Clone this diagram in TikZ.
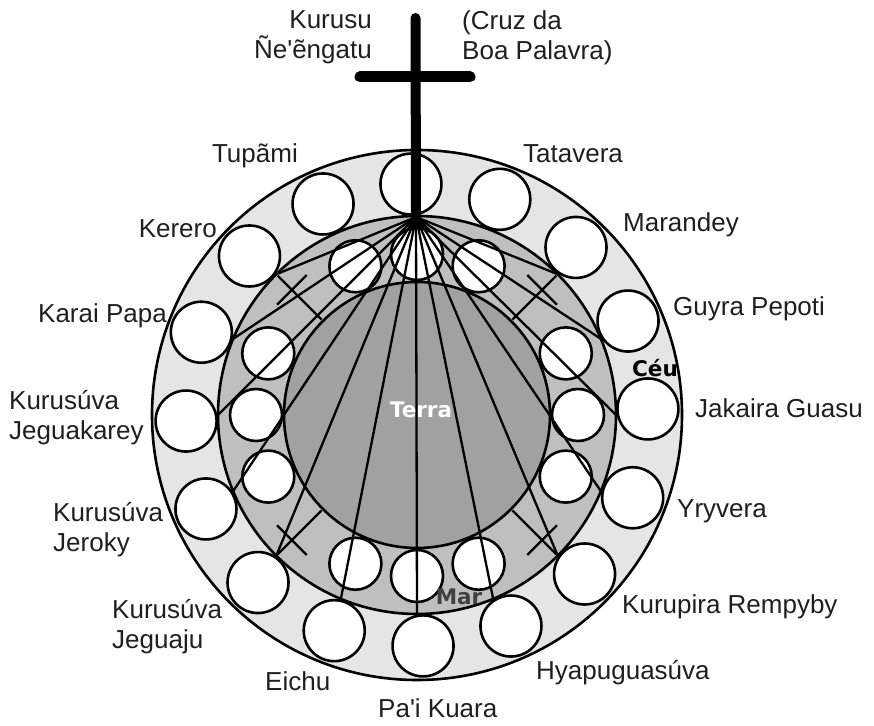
\documentclass[tikz,border=0pt]{standalone}
\usepackage{fontspec}
\setmainfont{Liberation Sans}
\newfontfamily\tagfont{DejaVu Sans}
\definecolor{ringlight}{gray}{0.9}
\definecolor{ringmid}{gray}{0.75}
\definecolor{ringdark}{gray}{0.63}
\tikzset{
	lab/.style={font=\fontsize{26}{30}\selectfont, text=black!88, inner sep=0pt},
	tag/.style={font=\tagfont\bfseries\fontsize{21.5}{24}\selectfont, inner sep=0pt},
	ray/.style={line width=2.3pt},
	smallcross/.style={line width=2.3pt}
}

\begin{document}
\begin{tikzpicture}[x=1pt,y=1pt]
	\useasboundingbox (0,0) rectangle (874,725);
	\begin{scope}[shift={(417,310)}]
	\draw [line width=2.6pt, fill=ringlight] (0,0) circle (265pt);
	\draw [line width=2.6pt, fill=ringmid] (0,0) circle (199pt);
	\draw [line width=2.6pt, fill=ringdark] (0,0) circle (133pt);
	% outer ring
	\begin{scope}[every node/.style={circle,draw,fill=white,line width=2.6pt,inner sep=0pt,minimum size=61pt}]
	\node (jakaira) at (1.5:231) {};
	\node (guyra) at (24:231) {};
	\node (marandey) at (46.5:231) {};
	\node (tatavera) at (69:231) {};
	\node (kurusu) at (91.5:231) {};
	\node (tupami) at (114:231) {};
	\node (kerero) at (136.5:231) {};
	\node (karai) at (159:231) {};
	\node (jeguakarey) at (181.5:231) {};
	\node (jeroky) at (204:231) {};
	\node (jeguaju) at (226.5:231) {};
	\node (eichu) at (249:231) {};
	\node (paikuara) at (271.5:231) {};
	\node (hyapu) at (294:231) {};
	\node (kurupira) at (316.5:231) {};
	\node (yryvera) at (339:231) {};
	\end{scope}
	% middle ring
	\begin{scope}[every node/.style={circle,draw,fill=white,line width=2.6pt,inner sep=0pt,minimum size=52pt}]
	\node (m1) at (0:161) {};
	\node (m2) at (22.5:161) {};
	\node (m3) at (67.5:161) {};
	\node (m4) at (90:161) {};
	\node (m5) at (112.5:161) {};
	\node (m6) at (157.5:161) {};
	\node (m7) at (180:161) {};
	\node (m8) at (202.5:161) {};
	\node (m9) at (247.5:161) {};
	\node (m10) at (270:161) {};
	\node (m11) at (292.5:161) {};
	\node (m12) at (337.5:161) {};
	\end{scope}
	\coordinate (apex) at (-1,198);
	\path (45:199) coordinate (e1) (22.5:199) coordinate (e2) (0:199) coordinate (e3)
		(-22.5:199) coordinate (e4) (-45:199) coordinate (e5) (-67.5:199) coordinate (e6)
		(-90:199) coordinate (e7) (-112.5:199) coordinate (e8) (-135:199) coordinate (e9)
		(-157.5:199) coordinate (e10) (180:199) coordinate (e11) (157.5:199) coordinate (e12)
		(135:199) coordinate (e13);
	\draw [ray] (apex) edge (e1) edge (e2) edge (e3) edge (e4) edge (e5) edge (e6) edge (e7)
		edge (e8) edge (e9) edge (e10) edge (e11) edge (e12) edge (e13);
	\draw [smallcross, rotate=45] (135,0) -- (197,0) (177,-21) -- (177,21);
	\draw [smallcross, rotate=135] (135,0) -- (197,0) (177,-21) -- (177,21);
	\draw [smallcross, rotate=225] (135,0) -- (197,0) (177,-21) -- (177,21);
	\draw [smallcross, rotate=315] (135,0) -- (197,0) (177,-21) -- (177,21);
	% the big cross
	\coordinate (crosstop) at (-1.5,397);
	\coordinate (armleft) at (-57,338);
	\coordinate (armright) at (53,338);
	\draw [line width=10pt, line cap=round] (crosstop) -- (apex);
	\draw [line width=11pt, line cap=round] (armleft) -- (armright);
	\end{scope}
	\node [tag, text=white] (terra) at (421,315) {Terra};
	\node [tag] (ceu) at (655,357) {Céu};
	\node [tag, text=black!75] (mar) at (459,128) {Mar};
	\node [lab, anchor=base east, align=right] (t-kurusu) at (372,666) {Kurusu\\Ñe\textquotesingle ẽngatu};
	\node [lab, anchor=base west, align=left] (t-cruz) at (462,665) {(Cruz da\\Boa Palavra)};
	\node [lab, anchor=base east] (t-tupami) at (298,562) {Tupãmi};
	\node [lab, anchor=base west] (t-tatavera) at (523,562) {Tatavera};
	\node [lab, anchor=base east] (t-kerero) at (217,487) {Kerero};
	\node [lab, anchor=base east] (t-karai) at (167,402) {Karai Papa};
	\node [lab, anchor=base west, align=left] (t-jeguakarey) at (9,285) {Kurusúva\\Jeguakarey};
	\node [lab, anchor=base west, align=left] (t-jeroky) at (53,173) {Kurusúva\\Jeroky};
	\node [lab, anchor=base west, align=left] (t-jeguaju) at (112,77) {Kurusúva\\Jeguaju};
	\node [lab, anchor=base west] (t-eichu) at (265,35) {Eichu};
	\node [lab, anchor=base west] (t-paikuara) at (378,8) {Pa\textquotesingle i Kuara};
	\node [lab, anchor=base west] (t-hyapu) at (536,46) {Hyapuguasúva};
	\node [lab, anchor=base west] (t-kurupira) at (622,112) {Kurupira Rempyby};
	\node [lab, anchor=base west] (t-yryvera) at (677,207) {Yryvera};
	\node [lab, anchor=base west] (t-jakaira) at (695,307) {Jakaira Guasu};
	\node [lab, anchor=base west] (t-guyra) at (673,409) {Guyra Pepoti};
	\node [lab, anchor=base west] (t-marandey) at (623,493) {Marandey};
\end{tikzpicture}
\end{document}
